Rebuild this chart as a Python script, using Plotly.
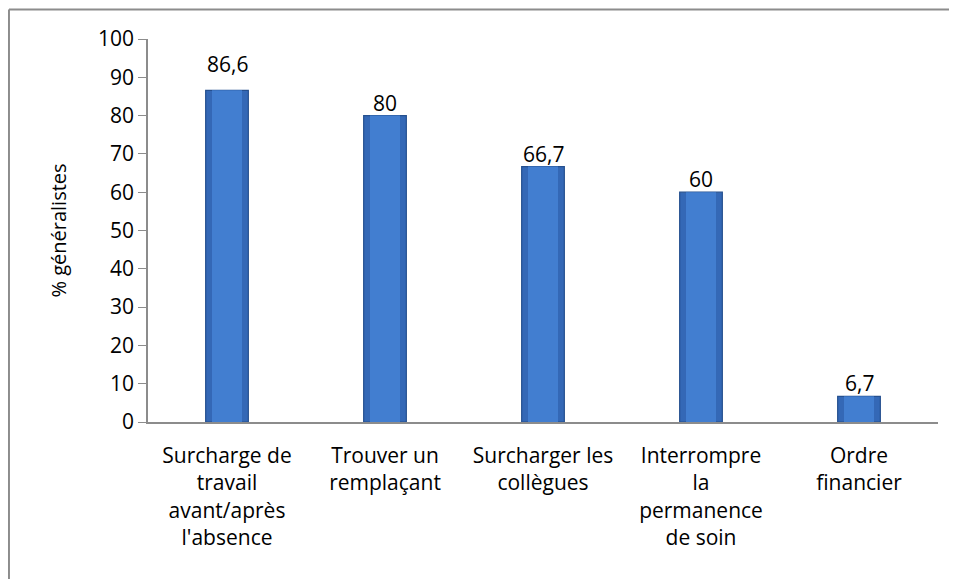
import plotly.graph_objects as go

categories = [
    "Surcharge de<br>travail<br>avant/après<br>l'absence",
    "Trouver un<br>remplaçant",
    "Surcharger les<br>collègues",
    "Interrompre<br>la<br>permanence<br>de soin",
    "Ordre<br>financier",
]
valeurs = [86.6, 80, 66.7, 60, 6.7]
y_ticks = [0, 10, 20, 30, 40, 50, 60, 70, 80, 90, 100]

police = "'Open Sans', 'Noto Sans', sans-serif"
gris = "#8c8c8c"
etiquettes = [f"{v:g}".replace(".", ",") for v in valeurs]
# décalage vertical des étiquettes (px) - la première est plus haute dans l'original
decalages = [10, -3, -3, -3, -3]

fig = go.Figure()
# barre extérieure (bords foncés)
fig.add_trace(go.Bar(
    x=categories,
    y=valeurs,
    marker=dict(color="#3468b6", line=dict(color="#25508f", width=1.2)),
    width=0.27,
    hoverinfo="skip",
))
# bande centrale plus claire (effet relief)
fig.add_trace(go.Bar(
    x=categories,
    y=valeurs,
    marker=dict(color="#427ed0", line=dict(width=0)),
    width=0.19,
))

fig.update_layout(
    width=957,
    height=579,
    margin=dict(l=140, r=27, t=31, b=165),
    barmode="overlay",
    paper_bgcolor="white",
    plot_bgcolor="white",
    font=dict(family=police, size=21, color="black"),
    showlegend=False,
    shapes=[
        # cadre du graphique (gauche + haut)
        dict(type="line", xref="paper", yref="paper", x0=-0.176, x1=-0.176, y0=-0.45, y1=1.077,
             line=dict(color=gris, width=2)),
        dict(type="line", xref="paper", yref="paper", x0=-0.176, x1=1.04, y0=1.077, y1=1.077,
             line=dict(color=gris, width=2)),
    ],
    annotations=[
        dict(x=c, y=v, text=t, showarrow=False, yanchor="bottom", yshift=d,
             font=dict(size=21, color="black", family=police))
        for c, v, t, d in zip(categories, valeurs, etiquettes, decalages)
    ],
)

fig.update_yaxes(
    range=[0, 100],
    tickvals=y_ticks,
    showgrid=False,
    zeroline=False,
    showline=True,
    linecolor=gris,
    linewidth=1.5,
    ticks="outside",
    ticklen=8,
    tickcolor=gris,
    tickfont=dict(size=21),
    title=dict(text="% généralistes", font=dict(size=20), standoff=26),
)
fig.update_xaxes(
    showgrid=False,
    showline=True,
    linecolor=gris,
    linewidth=1.5,
    ticks="",
    tickangle=0,
    tickfont=dict(size=21),
    ticklabelstandoff=14,
)

fig.write_html("out.html")
